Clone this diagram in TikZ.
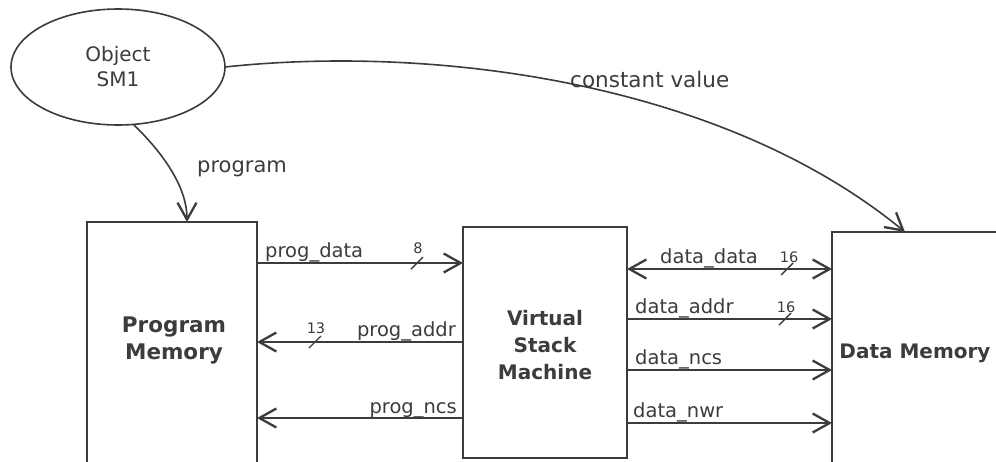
\documentclass[tikz,border=0pt]{standalone}
\usepackage{fontspec}
\setmainfont{DejaVu Sans}
\usetikzlibrary{arrows.meta,calc,shapes.geometric}
\definecolor{ink}{HTML}{3C3C3C}
\tikzset{
  box/.style={draw=ink, line width=1.6pt, rectangle, inner sep=0pt, outer sep=0pt},
  sig/.style={draw=ink, line width=1.6pt, -{Straight Barb[length=17pt,width=19pt,line width=2.3pt]}},
  bisig/.style={draw=ink, line width=1.6pt, {Straight Barb[length=17pt,width=19pt,line width=2.3pt]}-{Straight Barb[length=17pt,width=19pt,line width=2.3pt]}},
  slash/.style={draw=ink, line width=1.4pt},
  lbl/.style={text=ink, inner sep=0pt, font=\fontsize{19.5}{22}\selectfont},
  num/.style={text=ink, inner sep=0pt, font=\fontsize{14.5}{16}\selectfont},
  big/.style={text=ink, inner sep=0pt, align=center, font=\fontsize{20}{27}\selectfont\bfseries},
}
\begin{document}
\begin{tikzpicture}[x=1pt,y=-1pt]
\useasboundingbox (0,0) rectangle (996,461);
\clip (0,0) rectangle (996,461);
\fill[white] (0,0) rectangle (996,461);
% object ellipse
\node[draw=ink, line width=1.6pt, ellipse, minimum width=214, minimum height=116, inner sep=0pt, outer sep=0pt,
      text=ink, align=center, font=\fontsize{20}{25}\selectfont] (obj) at (118,67) {Object\\SM1};
% boxes
\node[box, minimum width=170, minimum height=260] (pm) at (172,352) {};
\node[big, font=\fontsize{21.5}{27}\selectfont\bfseries] (pmt) at (174,340) {Program\\Memory};
\node[box, minimum width=164, minimum height=231] (vsm) at (545,342.5) {};
\node[big] (vsmt) at (545,345) {Virtual\\Stack\\Machine};
\node[box, minimum width=190, minimum height=260] (dm) at (927,362) {};
\node[big] (dmt) at (915,353) {Data Memory};
% level coordinates
\coordinate (r1) at (0,263);
\coordinate (r2) at (0,342);
\coordinate (r3) at (0,418);
\coordinate (d1) at (0,269);
\coordinate (d2) at (0,319);
\coordinate (d3) at (0,370);
\coordinate (d4) at (0,423);
\coordinate (pin) at (187,0);
\coordinate (din) at (905,0);
% curved arrows
\draw[sig] (obj.-75) .. controls (160,150) and (187,185) .. (pm.north -| pin);
\node[lbl, anchor=base west, font=\fontsize{21}{24}\selectfont] (lprog) at (197,172) {program};
\draw[sig] (obj.east) .. controls (430,45) and (720,80) .. (dm.north -| din);
\node[lbl, anchor=base west, font=\fontsize{21.5}{24}\selectfont] (lconst) at (570,87) {constant value};
% program side signals
\draw[sig] (pm.east |- r1) -- (vsm.west |- r1);
\node[lbl, anchor=base west] (l1) at (265,257) {prog\_data};
\draw[sig] (vsm.west |- r2) -- (pm.east |- r2);
\node[lbl, anchor=base east] (l2) at (456,336) {prog\_addr};
\draw[sig] (vsm.west |- r3) -- (pm.east |- r3);
\node[lbl, anchor=base east] (l3) at (457,413) {prog\_ncs};
% data side signals
\draw[bisig] (vsm.east |- d1) -- (dm.west |- d1);
\node[lbl, anchor=base west] (l4) at (660,263) {data\_data};
\draw[sig] (vsm.east |- d2) -- (dm.west |- d2);
\node[lbl, anchor=base west] (l5) at (635,313) {data\_addr};
\draw[sig] (vsm.east |- d3) -- (dm.west |- d3);
\node[lbl, anchor=base west] (l6) at (635,364) {data\_ncs};
\draw[sig] (vsm.east |- d4) -- (dm.west |- d4);
\node[lbl, anchor=base west] (l7) at (633,417) {data\_nwr};
% bus width slashes
\coordinate (s1) at (417,263);
\coordinate (s2) at (315,342);
\coordinate (s3) at (787,269);
\coordinate (s4) at (785,319);
\foreach \s in {s1,s2,s3,s4}{\draw[slash] ($(\s)+(-6,6)$) -- ($(\s)+(6,-6)$);}
\node[num, anchor=base] (n1) at (418,253) {8};
\node[num, anchor=base] (n2) at (316,333) {13};
\node[num, anchor=base] (n3) at (789,262) {16};
\node[num, anchor=base] (n4) at (786,312) {16};
\end{tikzpicture}
\end{document}
